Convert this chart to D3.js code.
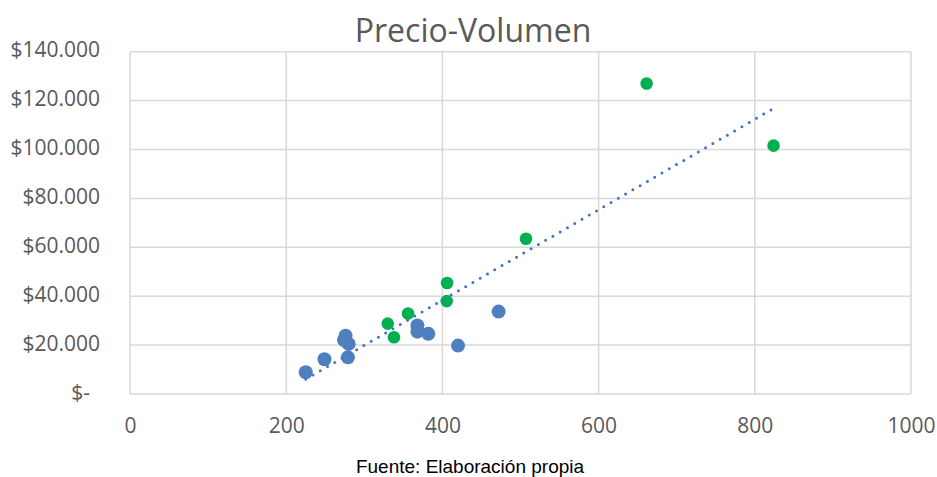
<!DOCTYPE html>
<html lang="es">
<head>
<meta charset="utf-8">
<title>Precio-Volumen</title>
<script src="https://cdn.jsdelivr.net/npm/d3@7"></script>
<style>
  html, body { margin: 0; padding: 0; background: #fff; }
  svg { display: block; }
</style>
</head>
<body>
<svg id="chart" width="937" height="477"></svg>
<script>
// Volumen (x) and Precio (y), blue group
const volumenAzul = [225, 249, 276, 274, 280, 279, 368, 368, 382, 420, 472];
const precioAzul  = [8900, 14200, 23800, 22100, 20500, 15000, 28000, 25500, 24600, 19800, 33700];

// Volumen (x) and Precio (y), green group
const volumenVerde = [330, 338, 356, 405.5, 406, 507, 661.5, 824];
const precioVerde  = [28800, 23200, 32900, 38000, 45400, 63500, 127000, 101600];

// Axis ticks
const xTicks = [0, 200, 400, 600, 800, 1000];
const yTicks = [0, 20000, 40000, 60000, 80000, 100000, 120000, 140000];

const title = "Precio-Volumen";
const source = "Fuente: Elaboración propia";

const svg = d3.select("#chart");
const plot = { left: 130, right: 911, top: 51.7, bottom: 394 };

const x = d3.scaleLinear().domain([0, 1000]).range([plot.left, plot.right]);
const y = d3.scaleLinear().domain([0, 140000]).range([plot.bottom, plot.top]);

const gray = "#595959";
const gridColor = "#d9d9d9";
const font = "'Open Sans', 'DejaVu Sans', sans-serif";

// Gridlines
const grid = svg.append("g");
grid.selectAll("line.h").data(yTicks).join("line")
  .attr("x1", plot.left).attr("x2", plot.right)
  .attr("y1", d => y(d)).attr("y2", d => y(d))
  .attr("stroke", gridColor).attr("stroke-width", 1.5);
grid.selectAll("line.v").data(xTicks).join("line")
  .attr("y1", plot.top).attr("y2", plot.bottom)
  .attr("x1", d => x(d)).attr("x2", d => x(d))
  .attr("stroke", gridColor).attr("stroke-width", 1.5);

// Y axis labels (accounting format: thousands with dots, zero as "$-")
const fmtY = d => d === 0 ? "$-" : "$" + d3.format(",")(d).replace(/,/g, ".");
const yAxis = d3.axisLeft(y).tickValues(yTicks).tickFormat(fmtY).tickSize(0).tickPadding(0);
const gy = svg.append("g").attr("transform", `translate(${plot.left - 30},0)`).call(yAxis);
gy.select(".domain").remove();
gy.selectAll("text")
  .attr("font-family", font).attr("font-size", 21).attr("fill", gray)
  .attr("dy", "5px")
  .attr("dx", d => d === 0 ? -10 : 0);

// X axis labels
const xAxis = d3.axisBottom(x).tickValues(xTicks).tickFormat(d3.format("d")).tickSize(0).tickPadding(0);
const gx = svg.append("g").attr("transform", `translate(0,${plot.bottom})`).call(xAxis);
gx.select(".domain").remove();
gx.selectAll("text")
  .attr("font-family", font).attr("font-size", 21).attr("fill", gray)
  .attr("y", 39).attr("dy", 0);

// Points
const azul = volumenAzul.map((v, i) => ({ v, p: precioAzul[i] }));
const verde = volumenVerde.map((v, i) => ({ v, p: precioVerde[i] }));

svg.append("g").selectAll("circle").data(azul).join("circle")
  .attr("cx", d => x(d.v)).attr("cy", d => y(d.p)).attr("r", 7)
  .attr("fill", "#4f7fbf");

svg.append("g").selectAll("circle").data(verde).join("circle")
  .attr("cx", d => x(d.v)).attr("cy", d => y(d.p)).attr("r", 6.3)
  .attr("fill", "#00b050");

// Linear trendline over all points (least squares)
const all = azul.concat(verde);
const mx = d3.mean(all, d => d.v), my = d3.mean(all, d => d.p);
const slope = d3.sum(all, d => (d.v - mx) * (d.p - my)) / d3.sum(all, d => (d.v - mx) ** 2);
const intercept = my - slope * mx;
const [x0, x1] = d3.extent(all, d => d.v);
const trend = [x0, x1].map(v => ({ v, p: intercept + slope * v }));

svg.append("path")
  .datum(trend)
  .attr("d", d3.line().x(d => x(d.v)).y(d => y(d.p)))
  .attr("fill", "none")
  .attr("stroke", "#4472c4")
  .attr("stroke-width", 3)
  .attr("stroke-linecap", "round")
  .attr("stroke-dasharray", "0 8.4");

// Title
svg.append("text")
  .attr("x", 473).attr("y", 41.7)
  .attr("text-anchor", "middle")
  .attr("font-family", font).attr("font-size", 32).attr("fill", gray)
  .text(title);

// Source note
svg.append("text")
  .attr("x", 470).attr("y", 472.5)
  .attr("text-anchor", "middle")
  .attr("font-family", "'Liberation Sans', Arial, sans-serif").attr("font-size", 19).attr("fill", "#000")
  .text(source);
</script>
</body>
</html>
